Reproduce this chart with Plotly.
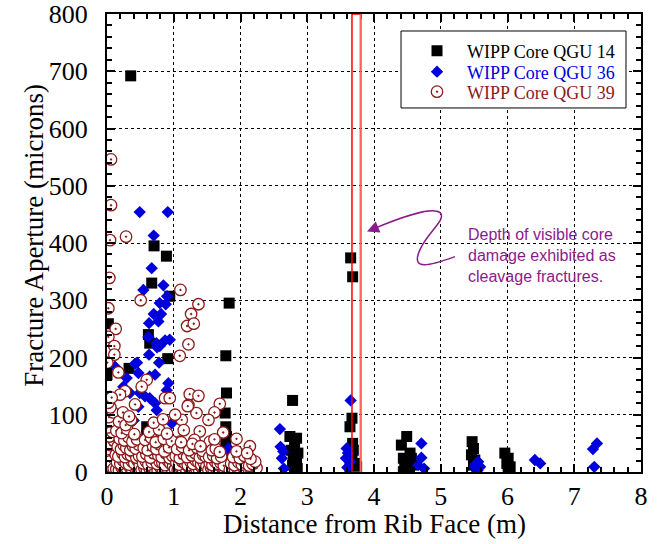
import plotly.graph_objects as go

# ---------------- data ----------------
qgu14_x = [0.355, 0.705, 0.89, 0.67, 0.94, 1.83, 0.02, 0.62, 0.64, 0.91, 1.78, 0.33, 0.00,
           1.79, 1.77, 1.78, 1.79, 1.78, 0.595, 0.595, 0.58, 0.00, 0.02, 0.00, 0.03, 0.00, 0.06, 0.10, 1.76,
           2.78, 2.74, 2.84, 2.81, 2.76, 2.86, 2.79, 2.84, 2.78, 2.85, 2.81,
           3.65, 3.68, 3.67, 3.64, 3.68, 3.69, 3.67, 3.72, 3.64, 3.74,
           4.49, 4.41, 4.54, 4.44, 4.56, 4.46, 4.51, 4.44, 4.56,
           5.47, 5.49, 5.46, 5.51, 5.49, 5.54,
           5.96, 6.01, 5.99, 6.04, 6.01]
qgu14_y = [692, 395, 377, 330, 307, 295, 259, 240, 225, 198, 203, 181, 170,
           138, 103, 79, 62, 48, 79, 65, 55, 44, 30, 21, 10, 3, 2, 4, 30,
           125, 62, 59, 47, 38, 33, 24, 18, 12, 6, 0,
           374, 341, 94, 79, 50, 38, 27, 15, 6, 9,
           62, 47, 33, 24, 24, 9.5, 3.6, 0.6, 12,
           53, 41, 30, 21, 12, 3.5,
           33, 24, 15, 9, 3.5]

qgu36_x = [0.49, 0.91, 0.70, 0.67, 0.545, 0.845, 0.90, 0.79, 0.88, 0.70, 0.81, 0.63, 0.77,
           0.62, 0.74, 0.79, 0.87, 0.94, 0.75, 0.63, 0.78, 0.45, 0.42, 0.12, 0.295, 0.47,
           0.64, 0.72, 0.92, 0.49, 0.57, 0.64, 0.72, 0.245, 0.345, 0.47, 0.745, 0.045,
           0.895, 0.97, 0.69, 0.25, 0.40,
           1.82, 1.78, 1.77, 1.80, 1.79,
           2.59, 2.60, 2.64, 2.62, 2.65,
           3.65, 3.59, 3.61, 3.58, 3.64, 3.60,
           4.71, 4.71, 4.66, 4.75,
           5.56, 5.51, 5.59, 5.55, 5.53,
           6.41, 6.49,
           7.34, 7.28, 7.30]
qgu36_y = [454, 454, 413, 356, 318, 326, 307, 295, 293, 276, 276, 260, 263,
           236, 225, 220, 230, 231, 218, 205, 191, 191, 189, 184, 164, 173,
           167, 170, 155, 138, 132, 129, 120, 149, 138, 114, 108, 132,
           143, 85, 1, 60, 90,
           41, 33, 24, 10, 2,
           75, 44, 36, 24, 6,
           125, 41, 33, 24, 18, 8,
           50, 25, 12, 6,
           18, 9, 9, 3, 14,
           21, 15,
           50, 40, 9]

qgu39_x = [
    # sparse upper points
    0.06, 0.06, 0.285, 0.045, 0.035, 1.10, 0.505, 0.02, 1.37, 1.26, 1.20, 1.30, 0.13, 0.02,
    0.11, 1.22, 0.11, 1.09, 0.005, 0.17, 0.27, 0.195, 0.02, 0.595, 0.52, 0.87, 0.94,
    1.24, 1.37, 1.22, 1.69, 1.61, 1.34, 1.12, 1.52, 1.15, 1.39, 1.74, 1.94, 2.14, 1.54,
    1.31, 1.09, 1.02, 1.21,
    # x 0 - 0.12
    0.02, 0.06, 0.09, 0.03, 0.07, 0.11, 0.02, 0.05, 0.10, 0.04, 0.08, 0.01, 0.06, 0.03,
    0.09, 0.05, 0.02, 0.07, 0.04, 0.10,
    # x 0.12 - 0.5
    0.14, 0.18, 0.22, 0.26, 0.30, 0.34, 0.38, 0.42, 0.46, 0.15, 0.20, 0.24, 0.28, 0.33,
    0.37, 0.41, 0.45, 0.49, 0.13, 0.17, 0.23, 0.27, 0.31, 0.36, 0.40, 0.44, 0.48, 0.16,
    0.21, 0.25, 0.29, 0.35, 0.39, 0.43, 0.47, 0.19, 0.26, 0.32, 0.38, 0.45, 0.14, 0.22,
    0.30, 0.41, 0.18, 0.28, 0.36, 0.24, 0.33, 0.42,
    # x 0.5 - 1.0
    0.52, 0.56, 0.60, 0.64, 0.68, 0.72, 0.76, 0.80, 0.84, 0.88, 0.92, 0.96, 0.54, 0.58,
    0.62, 0.67, 0.71, 0.75, 0.79, 0.83, 0.87, 0.91, 0.95, 0.99, 0.53, 0.59, 0.65, 0.70,
    0.77, 0.82, 0.89, 0.94, 0.98, 0.55, 0.61, 0.69, 0.74, 0.81, 0.86, 0.93, 0.57, 0.66,
    0.73, 0.85, 0.97, 0.63, 0.78, 0.90, 0.70, 0.84,
    # x 1.0 - 1.5
    1.02, 1.06, 1.10, 1.14, 1.18, 1.22, 1.26, 1.30, 1.34, 1.38, 1.42, 1.46, 1.04, 1.08,
    1.12, 1.17, 1.21, 1.25, 1.29, 1.33, 1.37, 1.41, 1.45, 1.49, 1.03, 1.09, 1.15, 1.20,
    1.27, 1.32, 1.39, 1.44, 1.48, 1.05, 1.13, 1.23, 1.35, 1.43, 1.11, 1.28, 1.40,
    # x 1.5 - 1.8
    1.52, 1.56, 1.60, 1.64, 1.68, 1.72, 1.76, 1.54, 1.58, 1.62, 1.66, 1.70, 1.75, 1.53,
    1.59, 1.65, 1.71, 1.57, 1.63, 1.69, 1.61,
    # x 1.8 - 2.25
    1.84, 1.88, 1.92, 1.96, 2.00, 2.04, 2.08, 2.12, 2.16, 2.20, 2.24, 1.86, 1.91, 1.97,
    2.02, 2.07, 2.13, 2.18, 2.22, 1.89, 1.99, 2.06, 2.15, 1.94, 2.10]
qgu39_y = [
    546, 466, 411, 405, 339, 318, 300, 286, 293, 276, 255, 259, 250, 236,
    220, 223, 205, 203, 191, 174, 141, 135, 114, 161, 149, 129, 129,
    136, 133, 117, 119, 104, 103, 91, 91, 73, 71, 69, 58, 45, 53,
    56, 53, 100, 115,
    4, 9, 15, 22, 27, 34, 40, 47, 55, 62, 70, 78, 88, 96,
    104, 113, 121, 130, 18, 6,
    5, 3, 8, 4, 6, 9, 3, 7, 5, 17, 14, 20, 16, 13,
    19, 15, 21, 12, 30, 27, 33, 26, 31, 29, 34, 25, 28, 44,
    40, 47, 42, 38, 45, 41, 48, 58, 55, 61, 53, 57, 72, 68,
    75, 66, 88, 82, 91, 104, 97, 118,
    4, 7, 3, 6, 9, 5, 3, 8, 4, 6, 3, 7, 15, 19,
    13, 17, 21, 14, 18, 16, 12, 20, 15, 11, 27, 31, 25, 33,
    29, 26, 32, 24, 28, 42, 38, 45, 40, 47, 36, 43, 56, 60,
    52, 58, 54, 70, 74, 67, 86, 92,
    5, 3, 8, 4, 6, 9, 3, 7, 5, 4, 8, 3, 16, 13,
    19, 15, 12, 18, 14, 20, 17, 13, 16, 11, 28, 24, 31, 26,
    29, 33, 25, 30, 27, 40, 44, 38, 42, 37, 52, 49, 45,
    4, 7, 3, 6, 4, 8, 5, 15, 12, 18, 14, 16, 11, 26,
    29, 24, 27, 38, 41, 35, 57,
    4, 7, 3, 6, 4, 8, 3, 6, 5, 4, 7, 15, 12, 17,
    13, 16, 11, 14, 18, 26, 24, 28, 23, 36, 33]

x_ticks = [0, 1, 2, 3, 4, 5, 6, 7, 8]
y_ticks = [0, 100, 200, 300, 400, 500, 600, 700, 800]
damage_zone = [3.67, 3.80]
x_title = "Distance from Rib Face (m)"
y_title = "Fracture Aperture (microns)"

BLACK = "#000000"
BLUE = "#0000dd"
DARKRED = "#8b1a1a"
PURPLE = "#8b1a8b"
SERIF = "Liberation Serif"

fig = go.Figure()
fig.add_trace(go.Scatter(
    x=qgu14_x, y=qgu14_y, mode="markers", legend="legend",
    name='<span style="color:#000000">WIPP Core QGU 14</span>',
    marker=dict(symbol="square", size=11, color=BLACK, line=dict(width=0))))
fig.add_trace(go.Scatter(
    x=qgu36_x, y=qgu36_y, mode="markers", legend="legend2",
    name='<span style="color:#0000dd">WIPP Core QGU 36</span>',
    marker=dict(symbol="diamond", size=9.5, color=BLUE, line=dict(width=0))))
fig.add_trace(go.Scatter(
    x=qgu39_x, y=qgu39_y, mode="markers", legend="legend3",
    name='<span style="color:#8b1a1a">WIPP Core QGU 39</span>',
    marker=dict(symbol="circle-dot", size=11.5, color="white",
                line=dict(width=1.3, color=DARKRED))))

# red band: depth of visible core damage
fig.add_shape(type="rect", xref="x", yref="y",
              x0=damage_zone[0], x1=damage_zone[1], y0=0, y1=800,
              line=dict(color="#ff0000", width=1.5), layer="above")
fig.add_shape(type="line", xref="x", yref="y",
              x0=damage_zone[1], x1=damage_zone[1], y0=0, y1=800,
              line=dict(color="#ff6060", width=2), layer="above")

# legend frame (white box with black border)
fig.add_shape(type="rect", xref="paper", yref="paper",
              x0=0.5506, x1=0.9719, y0=0.7948, y1=0.9629,
              fillcolor="white", line=dict(color=BLACK, width=1), layer="above")

# squiggly arrow (pixel path converted to data coords)
def px2d(px, py):
    return (px - 107) / 66.75, (472 - py) / 0.5715

pts = [(455, 257), (430, 266), (410, 272), (420, 250),
       (428, 232), (447, 220), (440, 213),
       (432, 207), (400, 218), (374, 229)]
d = [px2d(*p) for p in pts]
path = "M {:.3f},{:.2f} C {:.3f},{:.2f} {:.3f},{:.2f} {:.3f},{:.2f} C {:.3f},{:.2f} {:.3f},{:.2f} {:.3f},{:.2f} C {:.3f},{:.2f} {:.3f},{:.2f} {:.3f},{:.2f}".format(
    *[v for p in d for v in p])
fig.add_shape(type="path", xref="x", yref="y", path=path,
              line=dict(color=PURPLE, width=1.5))
tipx, tipy = px2d(367, 232)
fig.add_annotation(x=tipx, y=tipy, xref="x", yref="y", text="", showarrow=True,
                   ax=12, ay=-5, arrowhead=2, arrowsize=1.6, arrowwidth=1.5,
                   arrowcolor=PURPLE, standoff=0)
tx, ty = px2d(466, 224)
fig.add_annotation(x=tx, y=ty, xref="x", yref="y", showarrow=False,
                   xanchor="left", yanchor="top", align="left",
                   text="Depth of visible core<br>damage exhibited as<br>cleavage fractures.",
                   font=dict(family="Liberation Sans", size=16, color=PURPLE))

# axis titles placed as annotations for exact positioning
fig.add_annotation(xref="paper", yref="paper", x=0.5, y=-0.113,
                   xanchor="center", yanchor="middle", showarrow=False,
                   text=x_title, font=dict(family=SERIF, size=27, color=BLACK))
fig.add_annotation(xref="paper", yref="paper", x=-0.137, y=0.5175,
                   xanchor="center", yanchor="middle", showarrow=False, textangle=-90,
                   text=y_title, font=dict(family=SERIF, size=27, color=BLACK))

axis_common = dict(
    showline=True, linecolor=BLACK, linewidth=2, mirror="ticks",
    ticks="inside", ticklen=8, tickwidth=1.5, tickcolor=BLACK,
    showgrid=True, gridcolor=BLACK, gridwidth=1, griddash="dot",
    zeroline=False, automargin=False, ticklabeloverflow="allow",
    tickfont=dict(family=SERIF, size=26, color=BLACK),
)
fig.update_xaxes(range=[0, 8], tickmode="array", tickvals=x_ticks,
                 ticktext=[str(v) for v in x_ticks],
                 minor=dict(dtick=0.2, ticks="inside", ticklen=5, tickcolor=BLACK, showgrid=False),
                 ticklabelstandoff=0,
                 **axis_common)
fig.update_yaxes(range=[0, 800], tickmode="array", tickvals=y_ticks,
                 ticktext=[str(v) for v in y_ticks],
                 minor=dict(dtick=20, ticks="inside", ticklen=5, tickcolor=BLACK, showgrid=False),
                 ticklabelstandoff=12,
                 **axis_common)

leg_common = dict(x=0.5618, xanchor="left", yanchor="middle",
                  bgcolor="rgba(0,0,0,0)", borderwidth=0,
                  font=dict(family=SERIF, size=18, color=BLACK), itemwidth=50)
fig.update_layout(
    width=662, height=544,
    margin=dict(l=107, r=21, t=14, b=72, autoexpand=False),
    paper_bgcolor="white", plot_bgcolor="white",
    showlegend=True,
    legend=dict(y=0.919, **leg_common),
    legend2=dict(y=0.8734, **leg_common),
    legend3=dict(y=0.8297, **leg_common),
)

# remove the page's default 8px body margin so the figure sits at the window origin
fig.write_html("out.html", config={"displayModeBar": False},
               post_script="document.body.style.margin='0px';document.body.style.overflow='hidden';")
